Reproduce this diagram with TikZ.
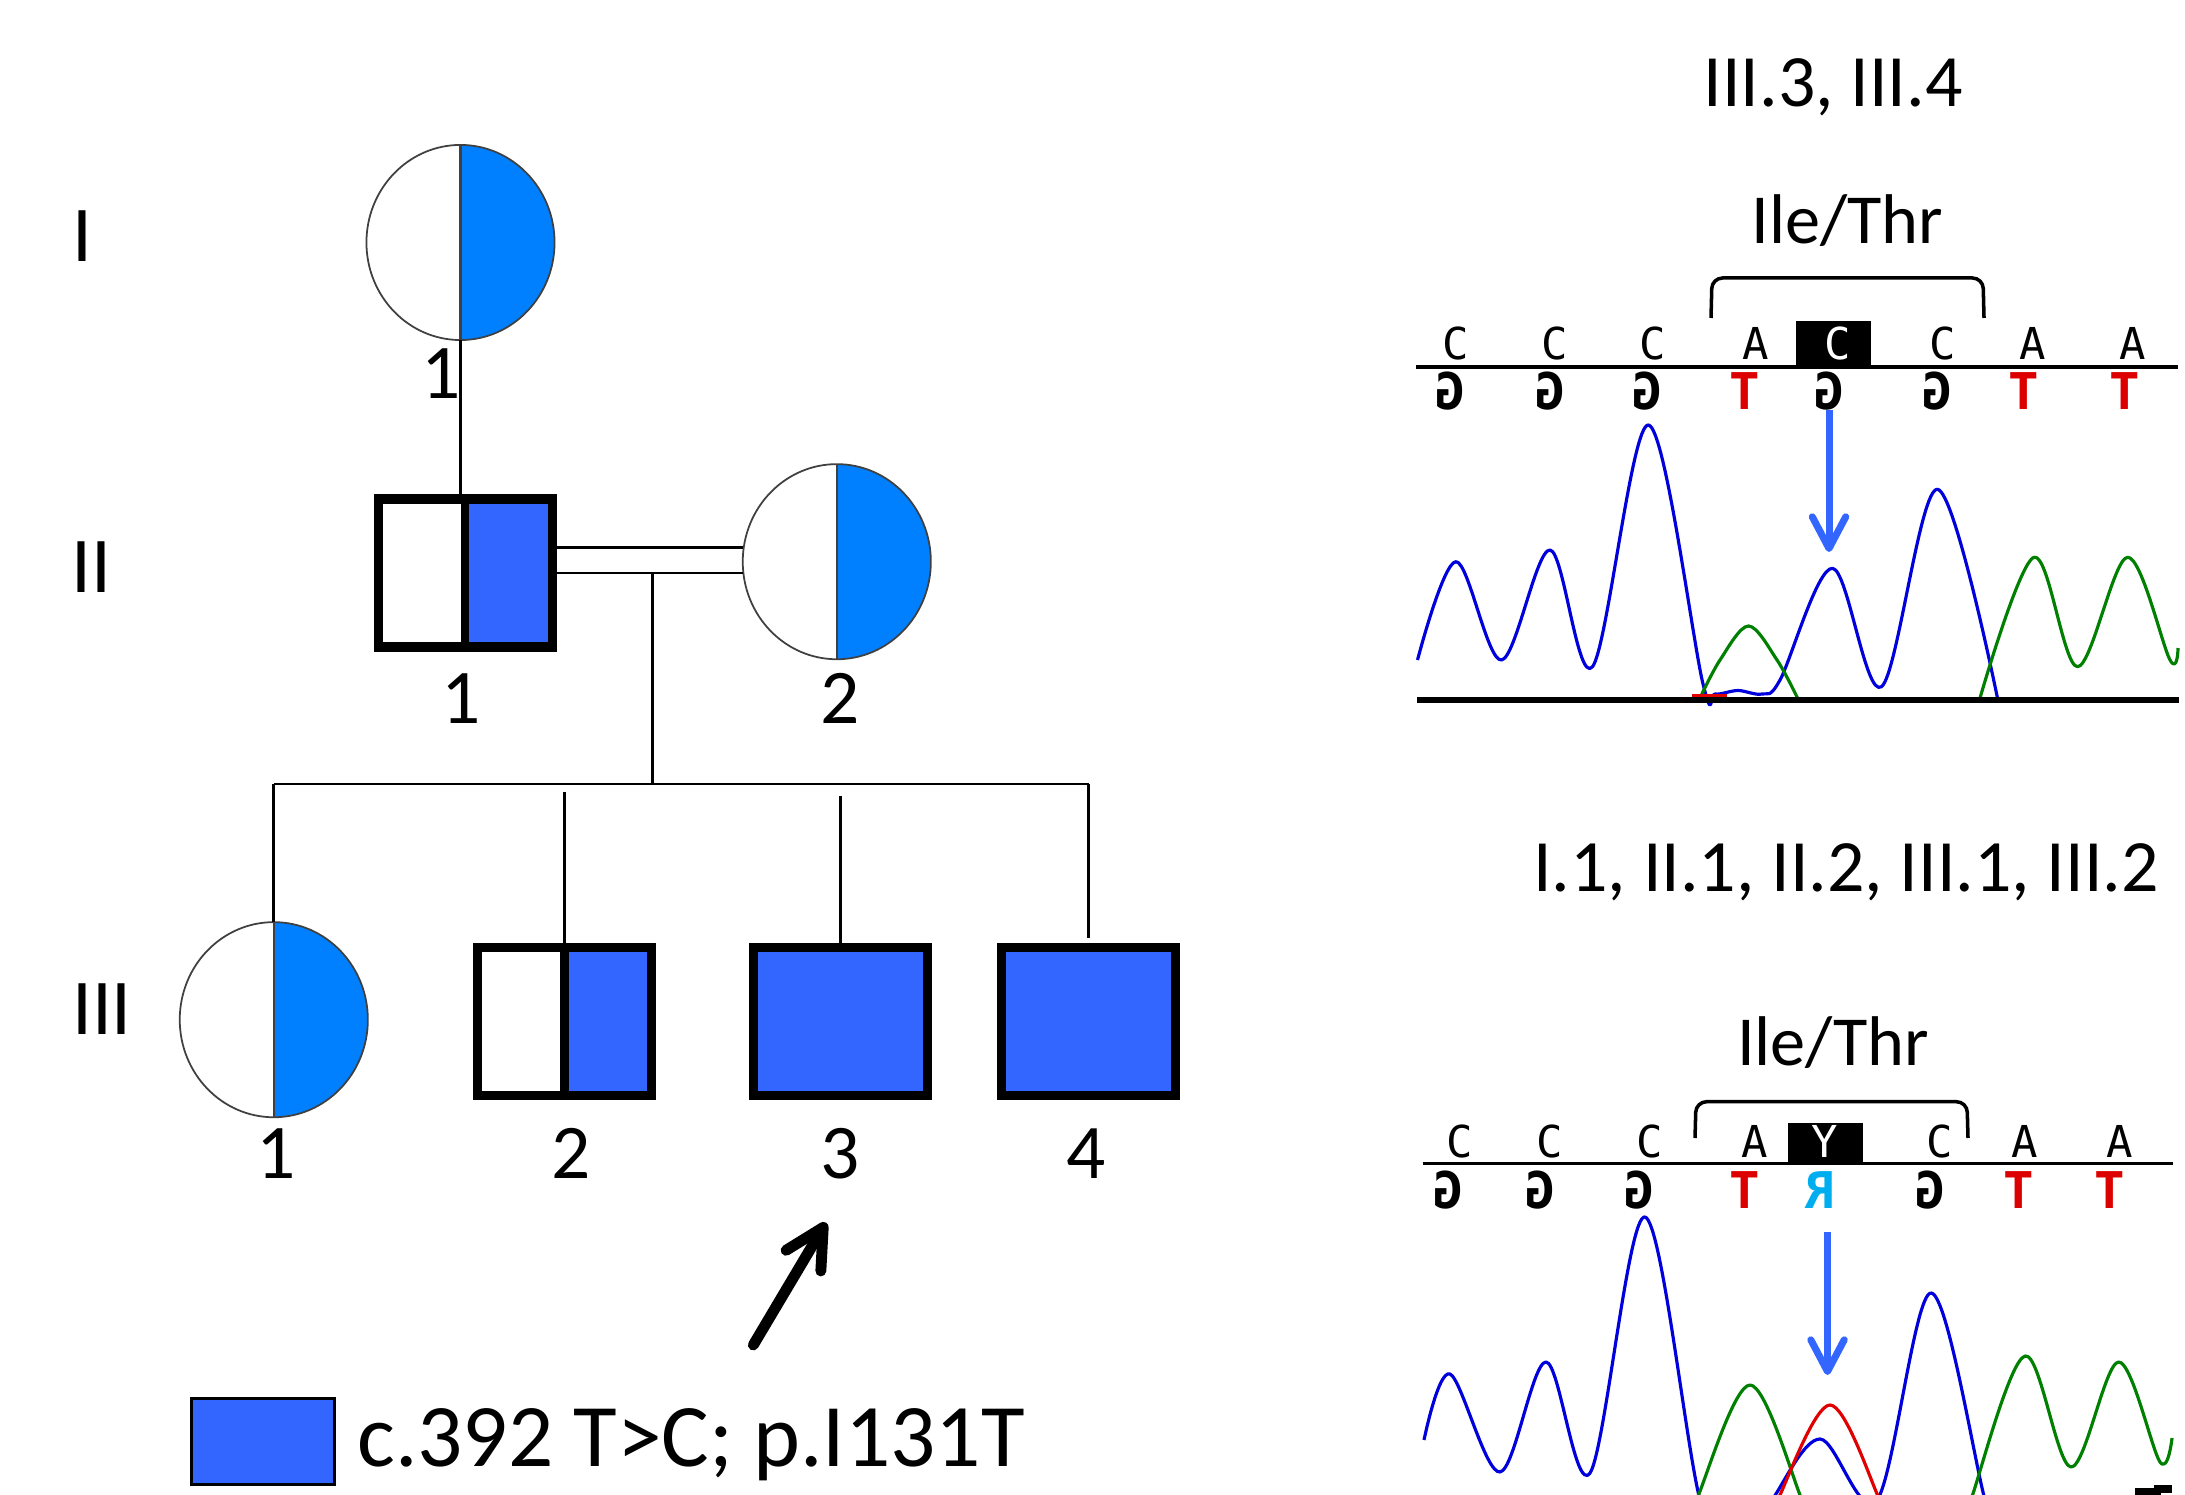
\documentclass[tikz,border=0pt]{standalone}
\usepackage{graphicx}
\usepackage{fontspec}
\setmainfont{Carlito}
\newfontfamily\seqfont{DejaVu Sans Mono}
\usetikzlibrary{arrows.meta,shapes.geometric,calc}
\definecolor{cblue}{HTML}{0080FF}
\definecolor{sblue}{HTML}{3366FF}
\definecolor{tblue}{HTML}{0000DD}
\definecolor{tgreen}{HTML}{008000}
\definecolor{tred}{HTML}{E00000}
\definecolor{bred}{HTML}{DD0000}
\definecolor{bcyan}{HTML}{00AEEF}
\definecolor{ring}{HTML}{404040}
\newcommand{\rG}{\reflectbox{G}}
\newcommand{\rR}{\reflectbox{R}}
\begin{document}
\begin{tikzpicture}[x=0.01cm,y=-0.01cm,
  female/.style={ellipse, draw=ring, line width=0.5pt, fill=white, minimum width=1.88cm, minimum height=1.95cm, inner sep=0, outer sep=0},
  carrierF/.style={female, path picture={\fill[cblue] (path picture bounding box.north) rectangle (path picture bounding box.south east); \draw[line width=0.6pt] (path picture bounding box.north) -- (path picture bounding box.south);}},
  male/.style={rectangle, draw=black, line width=2.6pt, minimum width=1.74cm, minimum height=1.48cm, inner sep=0, outer sep=0},
  carrierM/.style={male, fill=white, path picture={\fill[sblue] (path picture bounding box.north) rectangle (path picture bounding box.south east); \draw[line width=2.4pt] (path picture bounding box.north) -- (path picture bounding box.south);}},
  affectedM/.style={male, fill=sblue},
  conn/.style={line width=0.75pt, draw=black},
  gen/.style={font=\fontsize{22.5pt}{27pt}\selectfont, anchor=base, inner sep=0},
  num/.style={font=\fontsize{22pt}{26pt}\selectfont, anchor=base, inner sep=0},
  title/.style={font=\fontsize{21pt}{25pt}\selectfont, anchor=base, inner sep=0},
  aa/.style={font=\fontsize{20pt}{24pt}\selectfont, anchor=base, inner sep=0},
  seq/.style={font=\seqfont\fontsize{12.5pt}{14pt}\selectfont, anchor=base, inner sep=0},
  cmp/.style={font=\seqfont\bfseries\fontsize{14.4pt}{16pt}\selectfont, anchor=base, inner sep=0},
  trace/.style={line width=0.9pt, line join=round},
  hlbox/.style={fill=black, inner sep=0, minimum width=0.75cm, minimum height=0.44cm},
  mutarrow/.style={sblue, line width=2pt, -{Straight Barb[length=9pt,width=9.5pt,round]}},
  bracket/.style={line width=1pt, rounded corners=3pt}
]
\fill[white] (0,0) rectangle (2185,1495);
\useasboundingbox (0,0) rectangle (2185,1495);

% ---------------- pedigree ----------------
\node[gen] (gI) at (82,261.7) {I};
\node[gen] (gII) at (91.5,593) {II};
\node[gen] (gIII) at (102,1034) {III};

\node[carrierF] (I1) at (460.5,242.5) {};
\node[carrierM] (II1) at (465.2,573) {};
\node[carrierF] (II2) at (836.8,561.7) {};
\node[carrierF] (III1) at (273.8,1019.7) {};
\node[carrierM] (III2) at (564.6,1021.4) {};
\node[affectedM] (III3) at (840.6,1021.4) {};
\node[affectedM] (III4) at (1088.7,1021.4) {};

\draw[conn] (I1.south) -- (I1.south |- II1.north);
\draw[conn] (II1.east) -- (II1.east -| II2.west);
\draw[conn] ($(II1.east)+(0,-25.5)$) -- ($(II1.east -| II2.west)+(0,-25.5)$);
\coordinate (mate) at (652.5,573);
\coordinate (sibM) at (652.5,784);
\draw[conn] (mate) -- (sibM);
\coordinate (sibL) at (III1.north |- sibM);
\coordinate (sibR) at (III4.north |- sibM);
\draw[conn] (sibL) -- (sibR);
\draw[conn] (sibL) -- (III1.north);
\draw[conn] ($(III2.north |- sibM)+(0,8)$) -- (III2.north);
\draw[conn] ($(III3.north |- sibM)+(0,12)$) -- ($(III3.north)+(0,5)$);
\draw[conn] (sibR) -- ($(III4.north)+(0,-9)$);

\node[num] (lI1) at (441,398.3) {1};
\node[num] (lII1) at (461,724) {1};
\node[num] (lII2) at (840.5,724) {2};
\node[num] (lIII1) at (276,1178) {1};
\node[num] (lIII2) at (570.6,1178) {2};
\node[num] (lIII3) at (840,1178) {3};
\node[num] (lIII4) at (1085.7,1178) {4};

\coordinate (pS) at (753.3,1345);
\coordinate (pE) at (826,1222.7);
\draw[line width=3.1pt, line cap=round, -{Straight Barb[length=11pt,width=11.5pt,round]}] (pS) -- (pE);

\node[draw=black, line width=0.8pt, fill=sblue, minimum width=1.43cm, minimum height=0.86cm, inner sep=0] (legbox) at (263,1441.7) {};
\node[font=\fontsize{25.4pt}{30pt}\selectfont, anchor=base west, inner sep=0] (legtxt) at (356.7,1466.7) {c.392 T>C; p.I131T};

% ---------------- chromatogram 1 ----------------
\node[title] (t1) at (1833,106.7) {III.3, III.4};
\node[aa] (aa1) at (1847.5,243.3) {Ile/Thr};
\draw[bracket] (1711,318) -- (1712,278) -- (1983,278) -- (1984,318);

\node[hlbox] (hl1) at (1833.5,343) {};
\foreach \x/\l [count=\i] in {1456/C,1555/C,1652.5/C,1756/A,1942.5/C,2032.5/A,2132.5/A}
  \node[seq] (s1t\i) at (\x,360) {\l};
\node[seq, text=white] (s1hl) at (1837.5,360) {C};
\draw[line width=1pt] (1416,367) -- (2178,367);
\foreach \x/\l/\c [count=\i] in {1450/\rG/black,1550/\rG/black,1647.5/\rG/black,1745/T/bred,1829/\rG/black,1937.5/\rG/black,2024/T/bred,2125/T/bred}
  \node[cmp, text=\c] (s1b\i) at (\x,410) {\l};

\draw[tblue, trace] plot[smooth, tension=0.55] coordinates {(1417.5,660) (1456,561.7) (1501.5,660) (1550,550) (1592.5,666.7) (1648.5,425) (1703,684) (1715,694) (1738,690.5) (1762,694) (1780,680) (1832.5,568.3) (1881.5,686.7) (1937.5,489.3) (1997.5,698.3)};
\draw[tgreen, trace] plot[smooth, tension=0.55] coordinates {(1700,698) (1720,660) (1748.5,626) (1777,660) (1797.5,698)};
\draw[tgreen, trace] plot[smooth, tension=0.55] coordinates {(1980,698) (2034,557.3) (2077.5,666.7) (2127.5,557.3) (2170,660) (2178,648)};
\draw[tred, line width=1.5pt] (1692,697) -- (1727,697);
\draw[line width=1.9pt] (1417,700) -- (2179,700);
\coordinate (a1s) at (1829,410);
\coordinate (a1e) at (1829,552);
\draw[mutarrow] (a1s) -- (a1e);

% ---------------- chromatogram 2 ----------------
\node[title] (t2) at (1846,891.7) {I.1, II.1, II.2, III.1, III.2};
\node[aa] (aa2) at (1833,1065) {Ile/Thr};
\draw[bracket] (1695,1138) -- (1696,1101.7) -- (1967,1101.7) -- (1968,1138);

\node[hlbox, minimum height=0.39cm] (hl2) at (1825,1142.5) {};
\foreach \x/\l [count=\i] in {1460/C,1550/C,1650/C,1755/A,1940/C,2025/A,2120/A}
  \node[seq] (s2t\i) at (\x,1157) {\l};
\node[seq, text=white] (s2hl) at (1825,1157) {Y};
\draw[line width=1pt] (1422.5,1163.3) -- (2172.5,1163.3);
\foreach \x/\l/\c [count=\i] in {1448.5/\rG/black,1540/\rG/black,1639/\rG/black,1745/T/bred,1820/\rR/bcyan,1930/\rG/black,2019/T/bred,2110/T/bred}
  \node[cmp, text=\c] (s2b\i) at (\x,1208) {\l};

\begin{scope}
\clip (1400,1200) rectangle (2185,1495);
\draw[tblue, trace] plot[smooth, tension=0.55] coordinates {(1424,1440) (1450,1374) (1500,1472) (1546,1362) (1590,1473) (1645,1217) (1700,1500) (1736,1560) (1772,1500) (1820,1439) (1877,1500) (1931,1293) (1985,1500) (2000,1540)};
\draw[tgreen, trace] plot[smooth, tension=0.55] coordinates {(1690,1530) (1698.5,1495) (1750,1385) (1800,1495) (1808,1530)};
\draw[tgreen, trace] plot[smooth, tension=0.55] coordinates {(1965,1530) (1972.5,1495) (2025,1356) (2071,1467) (2118.5,1362) (2160,1462) (2172,1438)};
\draw[tred, trace] plot[smooth, tension=0.55] coordinates {(1772,1530) (1780,1495) (1830,1405) (1877.5,1495) (1885,1530)};
\draw[line width=2pt] (2135,1492) -- (2157,1492) -- (2157,1489) -- (2172,1489);
\end{scope}
\coordinate (a2s) at (1827.5,1232);
\coordinate (a2e) at (1827.5,1375);
\draw[mutarrow] (a2s) -- (a2e);
\end{tikzpicture}
\end{document}
